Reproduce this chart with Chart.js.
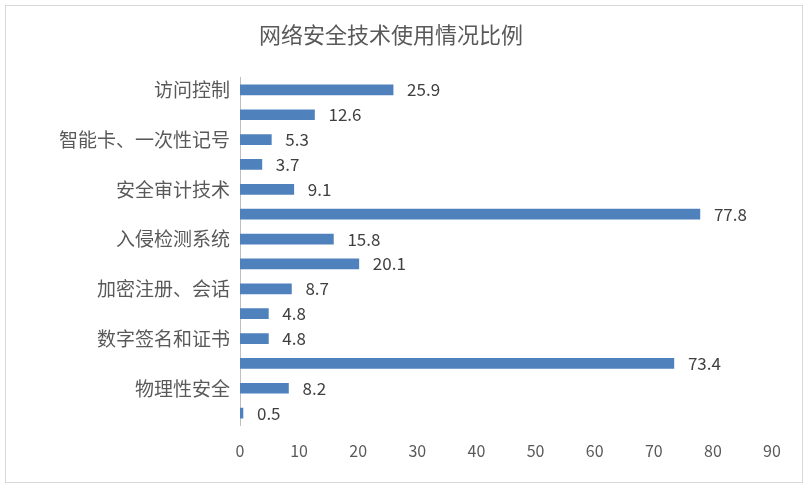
<!DOCTYPE html><html><head><meta charset="utf-8">
<script src="https://cdn.jsdelivr.net/npm/chart.js@4"></script>
<style>html,body{margin:0;padding:0;background:#fff}#w{width:809px;height:491px}</style></head><body><div id="w"><canvas id="c"></canvas></div>
<script>
const categories=["访问控制","可重复使用用户名/密码","智能卡、一次性记号","生物识别技术","安全审计技术","防火墙","入侵检测系统","加密文件系统","加密注册、会话","虚拟专用网络","数字签名和证书","反病毒软件","物理性安全","其他"];
const values=[25.9,12.6,5.3,3.7,9.1,77.8,15.8,20.1,8.7,4.8,4.8,73.4,8.2,0.5];
const xTicks=[0,10,20,30,40,50,60,70,80,90];
const FONT='"Noto Sans CJK SC","Noto Sans",sans-serif';
const txt='#595959';
const extra={id:'extra',
 beforeDraw(ch){const c=ch.ctx;c.save();c.strokeStyle='#d9d9d9';c.lineWidth=1;c.strokeRect(5.5,5.5,797,477);c.restore();},
 afterDatasetsDraw(ch){const c=ch.ctx;const m=ch.getDatasetMeta(0);c.save();c.font='17px '+FONT;c.fillStyle='#404040';c.textBaseline='middle';
  m.data.forEach((b,i)=>{c.fillText(values[i].toFixed(1),b.x+14,b.y);});c.restore();}};
new Chart(document.getElementById('c'),{type:'bar',
 data:{labels:categories,datasets:[{data:values,backgroundColor:'#4f81bd',barThickness:10}]},
 options:{indexAxis:'y',responsive:true,maintainAspectRatio:false,animation:false,
  layout:{padding:{left:10,right:37,top:0,bottom:10}},
  plugins:{legend:{display:false},tooltip:{enabled:false},
   title:{display:true,text:'网络安全技术使用情况比例',color:txt,font:{family:FONT,size:22,weight:'normal'},padding:{top:21,bottom:30}}},
  scales:{
   x:{min:0,max:90,afterBuildTicks:s=>{s.ticks=xTicks.map(v=>({value:v}));},grid:{display:false,drawTicks:false},border:{display:false},
      ticks:{color:txt,font:{family:FONT,size:16},padding:16},afterFit:s=>{s.height=55.4;}},
   y:{grid:{display:false,drawTicks:false},border:{display:true,color:'#bfbfbf'},
      ticks:{color:txt,font:{family:FONT,size:19},padding:10},afterFit:s=>{s.width=230;}}
  }}, plugins:[extra]});
</script></body></html>
